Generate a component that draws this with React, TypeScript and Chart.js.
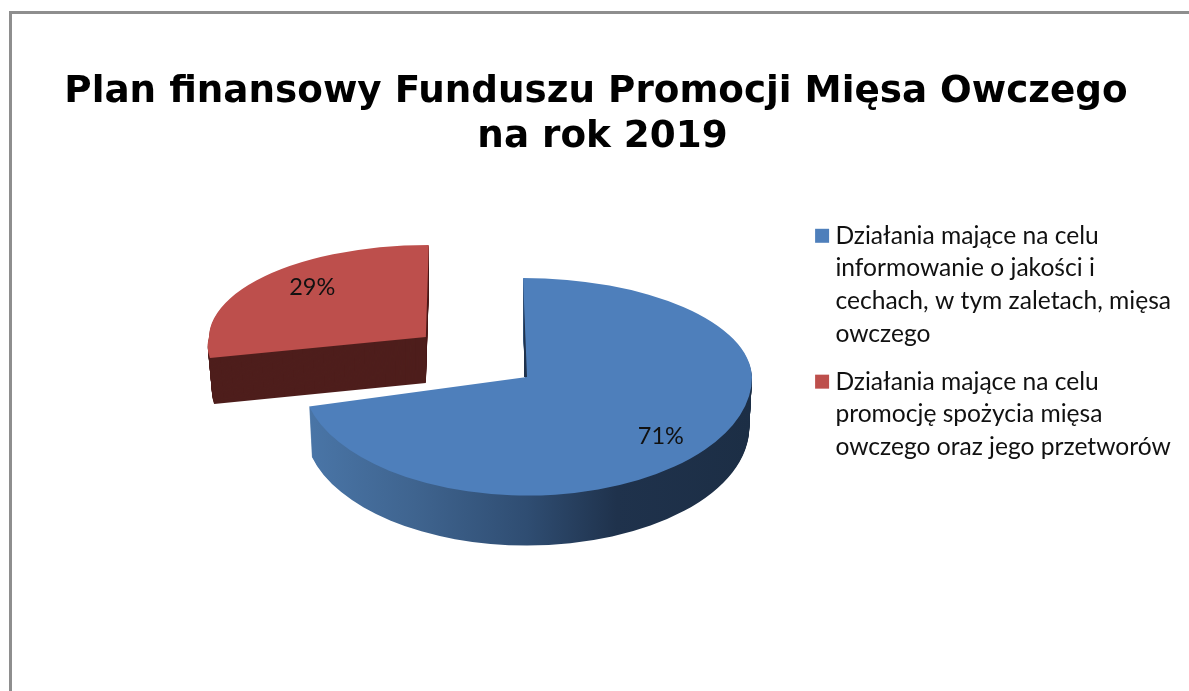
import React, { useEffect, useRef } from "react";
import { Chart, registerables } from "chart.js";

Chart.register(...registerables);

const titleLines = ["Plan finansowy Funduszu Promocji Mięsa Owczego", " na rok 2019"];
const categories = [
  ["Działania mające na celu", "informowanie o jakości i", "cechach, w tym zaletach, mięsa", "owczego"],
  ["Działania mające na celu", "promocję spożycia mięsa", "owczego oraz jego przetworów"],
];
const shares = [71, 29];
const faceColors = ["#4e7fbb", "#bd4f4c"];

// 3D look of the pie (style only)
const pieCentre = { x: 527, y: 377 };
const pieRadius = 225;
const explode = [0, 128];
const explodeTilt = 0.51;
const depth = [50, 46];
const taper = [0.012, 0.02];
const spread = [1, 0.964];
const tiltUp = [0.44, 0.409];
const tiltDown = [0.527, 0.375];
const shearUp = [0.04, -0.032];
const shearDown = [0, -0.28];
const labelFraction = [0.509, 0.574];
const labelDistance = [0.778, 0.748];

const placeFace = (ctx: any, arc: any, i: number, dy: number, upper: boolean, shrink: number) => {
  const mid = (arc.startAngle + arc.endAngle) / 2;
  const ax = pieCentre.x + Math.cos(mid) * explode[i];
  const ay = Math.round(pieCentre.y + Math.sin(mid) * explode[i] * explodeTilt) + dy;
  const tilt = upper ? tiltUp[i] : tiltDown[i];
  const shear = upper ? shearUp[i] : shearDown[i];
  ctx.beginPath();
  if (upper) ctx.rect(0, 0, 1189, ay);
  else ctx.rect(0, ay, 1189, 691 - ay);
  ctx.clip();
  ctx.transform(spread[i] * shrink, 0, shear * tilt, tilt, ax, ay);
  ctx.translate(-arc.x, -arc.y);
};

const pie3d = {
  id: "pie3d",
  beforeDatasetsDraw(chart: any) {
    const { ctx } = chart;
    const arcs = chart.getDatasetMeta(0).data;
    // Side walls: the slice outline swept downward
    arcs.forEach((arc: any, i: number) => {
      let fill: any = "#4e1e1c";
      if (i === 0) {
        const g = ctx.createLinearGradient(arc.x - arc.outerRadius, 0, arc.x + arc.outerRadius, 0);
        g.addColorStop(0, "#4a76a8");
        g.addColorStop(0.25, "#3f648f");
        g.addColorStop(0.5, "#2f4d72");
        g.addColorStop(0.7, "#1f324c");
        g.addColorStop(1, "#1c2e45");
        fill = g;
      }
      for (let d = depth[i]; d >= 1; d--) {
        const shrink = 1 - (taper[i] * d) / depth[i];
        [true, false].forEach((upper) => {
          ctx.save();
          placeFace(ctx, arc, i, d, upper, shrink);
          ctx.beginPath();
          ctx.moveTo(arc.x, arc.y);
          ctx.arc(arc.x, arc.y, arc.outerRadius, arc.startAngle, arc.endAngle);
          ctx.closePath();
          ctx.fillStyle = fill;
          ctx.fill();
          ctx.restore();
        });
      }
    });
    // Thin inner wall beside the blue slice's first edge
    ctx.save();
    ctx.fillStyle = "#1f324c";
    ctx.beginPath();
    ctx.moveTo(pieCentre.x - 3, pieCentre.y);
    ctx.lineTo(pieCentre.x + 1, pieCentre.y);
    ctx.lineTo(pieCentre.x - 3, pieCentre.y - 75);
    ctx.closePath();
    ctx.fill();
    ctx.restore();
    // Top faces, drawn by the library's own arc elements
    arcs.forEach((arc: any, i: number) => {
      [true, false].forEach((upper) => {
        ctx.save();
        placeFace(ctx, arc, i, 0, upper, 1);
        arc.draw(ctx);
        ctx.restore();
      });
    });
    // Percentage labels
    arcs.forEach((arc: any, i: number) => {
      const mid = (arc.startAngle + arc.endAngle) / 2;
      const at = arc.startAngle + (arc.endAngle - arc.startAngle) * labelFraction[i];
      const r = arc.outerRadius * labelDistance[i];
      const sinA = Math.sin(at);
      const x = pieCentre.x + Math.cos(mid) * explode[i] + Math.cos(at) * r * spread[i];
      const y =
        Math.round(pieCentre.y + Math.sin(mid) * explode[i] * explodeTilt) +
        sinA * r * (sinA < 0 ? tiltUp[i] : tiltDown[i]);
      ctx.save();
      ctx.font = "23.5px Lato";
      ctx.fillStyle = "#111111";
      ctx.textAlign = "center";
      ctx.textBaseline = "middle";
      ctx.fillText(`${shares[i]}%`, x, y);
      ctx.restore();
    });
    return false;
  },
};

export default function App() {
  const ref = useRef<HTMLCanvasElement>(null);
  useEffect(() => {
    if (!ref.current) return;
    const chart = new Chart(ref.current, {
      type: "pie",
      data: {
        labels: categories as any,
        datasets: [
          {
            data: shares,
            backgroundColor: faceColors,
            borderWidth: 0,
            clip: false as any,
          },
        ],
      },
      options: {
        responsive: false,
        animation: false,
        radius: pieRadius,
        layout: { padding: { left: 11, right: 8, top: 0, bottom: 0 } },
        plugins: {
          tooltip: { enabled: false },
          title: {
            display: true,
            text: titleLines,
            color: "#000000",
            font: { family: "'DejaVu Sans'", size: 37.3, weight: "bold", lineHeight: 1.206 },
            padding: { top: 70, bottom: 40 },
          },
          legend: {
            position: "right",
            align: "center",
            labels: {
              color: "#111111",
              font: { family: "Lato", size: 24.6, lineHeight: 1.33 },
              boxWidth: 2,
              boxHeight: 2,
              padding: 15,
              generateLabels: (c: any) =>
                (Chart as any).overrides.pie.plugins.legend.labels
                  .generateLabels(c)
                  .map((it: any) => ({ ...it, lineWidth: 12, strokeStyle: it.fillStyle })),
            },
          },
        },
      },
      plugins: [pie3d],
    } as any);
    return () => chart.destroy();
  }, []);
  return (
    <div style={{ position: "absolute", left: 0, top: 0, width: 1189, height: 691, overflow: "hidden", background: "#fff" }}>
      <div
        style={{
          position: "absolute",
          left: 9,
          top: 11,
          right: -5,
          bottom: -5,
          borderLeft: "3px solid #8e8e8e",
          borderTop: "3px solid #8e8e8e",
        }}
      />
      <canvas ref={ref} width={1189} height={691} style={{ position: "absolute", left: 0, top: 0 }} />
    </div>
  );
}
